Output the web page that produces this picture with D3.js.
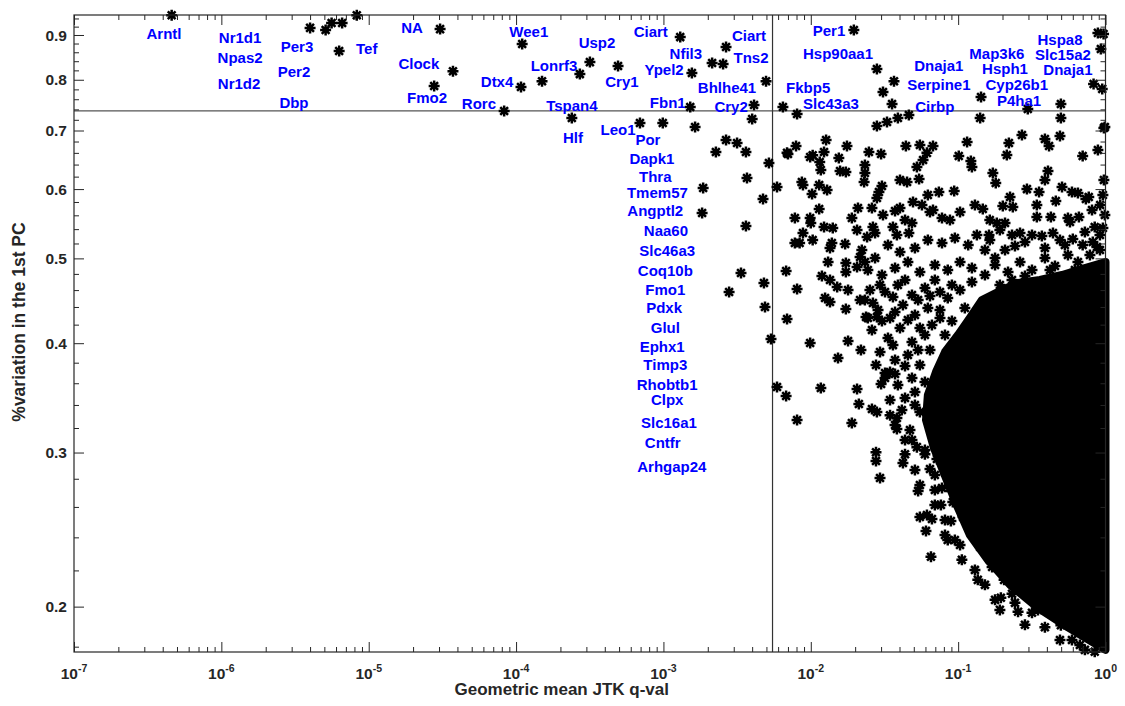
<!DOCTYPE html>
<html>
<head>
<meta charset="utf-8">
<script src="https://cdn.jsdelivr.net/npm/d3@7"></script>
<style>
  body { margin:0; background:#fff; }
  text { font-family:"Liberation Sans", Arial, Helvetica, sans-serif; font-weight:bold; }
</style>
</head>
<body>
<div id="chart-area"></div>
<script>

/* Data */

// axis ticks
var xTickValues = [1e-7, 1e-6, 1e-5, 1e-4, 1e-3, 1e-2, 1e-1, 1];
var xTickExponents = ["-7", "-6", "-5", "-4", "-3", "-2", "-1", "0"];
var yTickValues = [0.2, 0.3, 0.4, 0.5, 0.6, 0.7, 0.8, 0.9];
var yTickLabels = ["0.2", "0.3", "0.4", "0.5", "0.6", "0.7", "0.8", "0.9"];

// cut-off lines
var qCutoff = 0.0055;
var varCutoff = 0.737;

// genes : [JTK q-val, % variation in 1st PC]
var genePoints = [
  [4.6e-7,0.948],[4.0e-6,0.917],[5.1e-6,0.912],[5.6e-6,0.929],[6.6e-6,0.929],[6.3e-6,0.863],[8.3e-6,0.948],
  [3.05e-5,0.914],[1.10e-4,0.879],[3.73e-5,0.818],[2.78e-5,0.787],[1.08e-4,0.785],[1.50e-4,0.797],[8.3e-5,0.737],
  [2.71e-4,0.812],[3.17e-4,0.838],[4.92e-4,0.8295],[2.39e-4,0.7235],[1.30e-3,0.895],[2.66e-3,0.872],[2.14e-3,0.836],
  [2.54e-3,0.834],[1.56e-3,0.8144],[4.97e-3,0.797],[1.52e-3,0.7448],[4.12e-3,0.7486],[4.0e-3,0.7216],[6.93e-4,0.714],
  [9.9e-4,0.714],[1.64e-3,0.7064],[1.96e-2,0.912],[2.81e-2,0.823],[3.67e-2,0.797],[3.09e-2,0.7747],[3.56e-2,0.7506],
  [6.47e-3,0.7448],[8.07e-3,0.7311],[4.63e-2,0.7292],[3.9e-2,0.7235],[3.29e-2,0.716],[2.81e-2,0.7083],[0.143,0.7646],
  [0.141,0.7235],[0.297,0.7407],[0.498,0.7506],[0.498,0.7235],[0.888,0.905],[0.97,0.9025],[0.93,0.8675],[0.83,0.791],
  [0.95,0.781],[0.99,0.7064],
  [2.66e-3,0.6827],[3.16e-3,0.6773],[2.27e-3,0.6615],[3.63e-3,0.6615],[5.2e-3,0.6427],[6.9e-3,0.66],[7.94e-3,0.672],
  [3.69e-3,0.6178],[1.86e-3,0.6018],[5.9e-3,0.6033],[4.74e-3,0.5846],[1.83e-3,0.5634],[3.63e-3,0.5446],[7.8e-3,0.556],
  [7.8e-3,0.5207],[3.36e-3,0.4812],[6.8e-3,0.4837],[4.81e-3,0.4687],[2.79e-3,0.4577],[8.07e-3,0.4613],[4.89e-3,0.44],
  [6.9e-3,0.4263],[5.37e-3,0.4045],[5.9e-3,0.3565],[6.8e-3,0.3481],[8.07e-3,0.3268],
  [7.0e-3,0.658],[9.9e-3,0.653],[1.03e-2,0.656],[1.15e-2,0.6444],[1.17e-2,0.631],[1.27e-2,0.6827],[1.23e-2,0.6615],
  [1.55e-2,0.6512],[1.76e-2,0.672],[1.58e-2,0.6294],[1.73e-2,0.6277],[2.33e-2,0.6393],[2.33e-2,0.626],[2.3e-2,0.6113],
  [2.48e-2,0.6615],[3.0e-2,0.658],[8.7e-3,0.6113],[8.85e-3,0.6065],[1.14e-2,0.6065],[1.29e-2,0.5986],[1.02e-2,0.5924],
  [3.04e-2,0.605],[2.9e-2,0.5955],[2.81e-2,0.5862],[4.42e-2,0.672],[5.5e-2,0.6738],[6.75e-2,0.672],[6.14e-2,0.66],
  [5.78e-2,0.6478],[5.25e-2,0.636],[4.03e-2,0.6146],[4.5e-2,0.6113],[5.43e-2,0.6162],[6.23e-2,0.5908],[7.4e-2,0.5955],
  [9.4e-2,0.597],[0.101,0.6546],[0.115,0.6791],[0.122,0.646],[0.124,0.636],[0.172,0.626],[0.18,0.6097],[0.214,0.6563],
  [0.221,0.6773],[0.271,0.6918],[0.388,0.6845],[0.414,0.672],[0.491,0.69],[0.407,0.6294],[0.388,0.6146],[0.70,0.6546],
  [0.888,0.665],[0.975,0.7046],[0.293,0.600],[0.354,0.5955],[0.507,0.6033],[0.592,0.5955],[0.65,0.594],[0.736,0.5846],
  [0.77,0.5877],[0.96,0.5908],[0.99,0.5605],[0.225,0.5877],[0.201,0.574],[0.235,0.5725],[0.13,0.5755],[0.147,0.5694],
  [0.342,0.5755],[0.342,0.5575],[0.426,0.5575],[0.46,0.5816],[0.556,0.556],[0.574,0.5503],[0.66,0.5575],[0.845,0.5431],
  [0.96,0.5417],[0.44,0.5346],[0.60,0.5262],[0.82,0.522],[0.875,0.5153],
  [2.09e-2,0.571],[1.9e-2,0.556],[2.6e-2,0.571],[3.09e-2,0.5605],[3.73e-2,0.5664],[4.03e-2,0.571],[4.94e-2,0.58],
  [5.68e-2,0.5755],[6.44e-2,0.5649],[6.75e-2,0.5679],[7.77e-2,0.556],[8.8e-2,0.5532],[0.103,0.5649],[4.36e-2,0.5532],
  [4.86e-2,0.5489],[4.63e-2,0.5346],[2.06e-2,0.5388],[2.41e-2,0.529],[2.64e-2,0.5431],[2.73e-2,0.5346],[3.61e-2,0.5431],
  [3.84e-2,0.5318],[0.164,0.5532],[0.183,0.5489],[0.208,0.5489],[0.134,0.5318],[0.162,0.5318],[0.232,0.5318],
  [0.263,0.5346],[0.317,0.5318],
  [9.9e-3,0.556],[1.0e-2,0.5489],[1.14e-2,0.5694],[1.23e-2,0.5431],[1.41e-2,0.5417],[8.85e-3,0.5346],[8.4e-3,0.5207],
  [1.03e-2,0.5248],[1.39e-2,0.5207],[1.35e-2,0.5139],[1.71e-2,0.5193],[1.31e-2,0.4953],[1.73e-2,0.494],[1.73e-2,0.4824],
  [2.16e-2,0.5019],[2.06e-2,0.4888],[1.19e-2,0.4774],[1.35e-2,0.4724],[1.51e-2,0.4637],[1.79e-2,0.4601],[1.25e-2,0.4506],
  [1.35e-2,0.4459],[1.73e-2,0.4377],[2.33e-2,0.4482],[2.64e-2,0.4447],[2.37e-2,0.4285],[2.81e-2,0.4285],[9.9e-3,0.4003],
  [1.79e-2,0.4024],[2.19e-2,0.3929],[1.53e-2,0.3847],[3.19e-2,0.3698],[3.73e-2,0.3689],
  [1.17e-2,0.3556],[2.06e-2,0.3546],[2.12e-2,0.3409],[1.9e-2,0.3242],[2.6e-2,0.3364],[2.81e-2,0.3337],[3.45e-2,0.331],
  [3.84e-2,0.3285],[3.84e-2,0.3191],[3.0e-2,0.3593],[2.77e-2,0.3002],[2.77e-2,0.2934],[2.95e-2,0.2806],[4.22e-2,0.2919],
  [4.86e-2,0.31],[5.25e-2,0.3043],[5.35e-2,0.2712],[6.44e-2,0.2873],[6.95e-2,0.2828],[7.18e-2,0.295],[7.64e-2,0.2614],
  [7.77e-2,0.2733],[8.8e-2,0.2733],[9.2e-2,0.2634],[5.5e-2,0.2532],[6.14e-2,0.2545],[6.64e-2,0.2519],[6.05e-2,0.2441],
  [8.93e-2,0.2506],[8.5e-2,0.2383],[9.5e-2,0.2383],[6.54e-2,0.228],[0.108,0.2532],[0.117,0.2532],[0.141,0.246],
  [0.141,0.234],[0.164,0.2262],[0.17,0.222],[0.198,0.2232],[0.205,0.2146],[0.225,0.2135],[0.195,0.2047],[0.232,0.2069],
  [0.243,0.202],[0.271,0.209],[0.293,0.2163],[0.317,0.1968],[0.348,0.1983],[0.439,0.1957],[0.498,0.1904],[0.67,0.1899],
  [0.785,0.1851],[0.82,0.1832],[0.725,0.1785],[0.845,0.1776],[0.96,0.18],
  [2.22e-2,0.5112],[2.73e-2,0.5005],[3.34e-2,0.518],[4.03e-2,0.5085],[5.09e-2,0.5139],[6.23e-2,0.5248],[7.77e-2,0.5207],
  [9.5e-2,0.5276],[0.117,0.518],[0.152,0.5112],[2.44e-2,0.4849],[3.04e-2,0.4786],[3.73e-2,0.4875],[4.56e-2,0.4953],
  [5.5e-2,0.4824],[6.95e-2,0.4914],[8.5e-2,0.4849],[0.103,0.4953],[0.124,0.4875],[2.52e-2,0.4601],[3.19e-2,0.4577],
  [3.9e-2,0.4662],[4.86e-2,0.4541],[5.95e-2,0.4625],[7.53e-2,0.4577],[9.07e-2,0.4662],[2.86e-2,0.4365],[3.45e-2,0.4274],
  [4.22e-2,0.4423],[5.09e-2,0.4308],[6.23e-2,0.4388],[7.53e-2,0.4274],[2.6e-2,0.4142],[3.34e-2,0.4056],[4.03e-2,0.4164],
  [4.86e-2,0.4013],[5.95e-2,0.4088],[2.95e-2,0.3908],[3.73e-2,0.3827],[4.56e-2,0.3878],[5.5e-2,0.3777],[3.19e-2,0.365],
  [3.9e-2,0.3584],[4.86e-2,0.365],[3.45e-2,0.3445],[4.15e-2,0.3355],[5.09e-2,0.34],[4.36e-2,0.31],[5.95e-2,0.302],
  [5.09e-2,0.2865],[6.95e-2,0.2719],[8.14e-2,0.2512],[0.103,0.2352],[0.13,0.2203],[0.152,0.2118],[0.192,0.1983],
  [0.284,0.1907],[0.491,0.1832],[0.67,0.1808],
  [0.92,0.5755],[0.975,0.6146],[0.81,0.5679],[0.725,0.536],[0.53,0.518],[0.388,0.5139],[0.284,0.522],[0.208,0.5112],
  [0.178,0.5005],
  [0.178,0.4914],[0.218,0.4824],[0.263,0.4953],[0.317,0.4849],[0.388,0.5005],[0.454,0.4901],[0.556,0.5045],[0.65,0.4953],
  [0.784,0.5045],[0.917,0.5112],[0.192,0.4662],[0.232,0.4724],[0.284,0.4774],[0.42,0.4849],[0.62,0.4849],[0.845,0.4875],
  [0.491,0.5248],[0.70,0.518],[0.37,0.5304],[0.243,0.5166],[0.164,0.5248],[0.192,0.5388],[0.917,0.5318],
  [0.0695,0.4724],[0.085,0.4506],[0.103,0.4601],[0.124,0.4699],[0.152,0.4786],[0.0753,0.4365],[0.0907,0.4241],
  [0.111,0.4388],[0.0814,0.4088],[0.0664,0.4196],
  [0.0233,0.4953],[0.0295,0.4662],[0.0361,0.4518],[0.0436,0.4724],[0.0535,0.4482],[0.0644,0.453],[0.0216,0.4482],
  [0.0244,0.4274],[0.0304,0.4241],[0.0373,0.4342],[0.0456,0.4252],[0.055,0.4164],[0.0644,0.3929],[0.0535,0.3929],
  [0.0436,0.3767],[0.0595,0.3612],[0.0361,0.398],[0.0277,0.3777],[0.0345,0.3708],[0.0509,0.3518],[0.0436,0.3463],
  [0.055,0.3337],[0.0373,0.3225],[0.0471,0.3183],[0.0595,0.2986],[0.0436,0.2986],[0.055,0.2755],[0.0695,0.2614],
  [0.0814,0.2415],[0.106,0.2262],[0.136,0.2146],[0.178,0.2036],[0.255,0.1973],[0.388,0.1894],[0.592,0.1832]
];

// outline of the solid mass of overlapping genes (lower right)
var denseCore = [
  [1.0,0.4953],[0.725,0.4875],[0.507,0.4786],[0.359,0.4724],[0.255,0.4687],[0.186,0.4577],[0.145,0.4482],
  [0.120,0.4274],[0.0997,0.4088],[0.0814,0.3908],[0.0707,0.3708],[0.0623,0.349],[0.0605,0.3268],[0.0685,0.3036],
  [0.0826,0.2806],[0.0997,0.2593],[0.120,0.2415],[0.159,0.2262],[0.225,0.2118],[0.348,0.1993],[0.556,0.1894],
  [0.81,0.1823],[1.0,0.1785]
];

// gene names : [name, q-val, % variation]
var geneLabels = [
  ["Arntl",4.08e-7,0.9024],["Nr1d1",1.34e-6,0.895],["Npas2",1.34e-6,0.847],["Nr1d2",1.32e-6,0.791],
  ["Per3",3.26e-6,0.872],["Per2",3.11e-6,0.8165],["Dbp",3.11e-6,0.7526],["Tef",9.7e-6,0.8675],
  ["NA",1.97e-5,0.9167],["Wee1",1.22e-4,0.908],["Clock",2.19e-5,0.8339],["Usp2",3.54e-4,0.8812],
  ["Ciart",8.2e-4,0.908],["Ciart",3.81e-3,0.8976],["Nfil3",1.42e-3,0.8561],["Tns2",3.93e-3,0.847],
  ["Lonrf3",1.81e-4,0.8295],["Dtx4",7.43e-5,0.7953],["Cry1",5.23e-4,0.7953],["Ypel2",1.01e-3,0.8208],
  ["Bhlhe41",2.7e-3,0.783],["Fmo2",2.49e-5,0.7626],["Rorc",5.6e-5,0.7506],["Tspan4",2.39e-4,0.7467],
  ["Fbn1",1.07e-3,0.7526],["Cry2",2.88e-3,0.7448],["Leo1",4.92e-4,0.7009],["Per1",1.33e-2,0.9095],
  ["Hsp90aa1",1.53e-2,0.8561],["Fkbp5",9.6e-3,0.783],["Slc43a3",1.37e-2,0.7506],["Dnaja1",7.4e-2,0.8295],
  ["Serpine1",7.4e-2,0.7891],["Cirbp",6.95e-2,0.7448],["Map3k6",0.183,0.8575],["Hsph1",0.208,0.8245],
  ["Cyp26b1",0.25,0.789],["P4ha1",0.259,0.757],["Hspa8",0.491,0.8895],["Slc15a2",0.514,0.8545],
  ["Dnaja1",0.556,0.8208],["Hlf",2.43e-4,0.6864],["Por",7.85e-4,0.6827],["Dapk1",8.36e-4,0.6495],
  ["Thra",8.8e-4,0.6194],["Tmem57",9.1e-4,0.594],["Angptl2",8.8e-4,0.5664],["Naa60",1.04e-3,0.5374],
  ["Slc46a3",1.06e-3,0.5099],["Coq10b",1.03e-3,0.4837],["Fmo1",1.03e-3,0.4601],["Pdxk",1.01e-3,0.4388],
  ["Glul",1.03e-3,0.4164],["Ephx1",9.8e-4,0.3968],["Timp3",1.03e-3,0.3777],["Rhobtb1",1.06e-3,0.3584],
  ["Clpx",1.06e-3,0.3445],["Slc16a1",1.09e-3,0.325],["Cntfr",9.9e-4,0.3076],["Arhgap24",1.14e-3,0.2888]
];


/* Setting margins, width and height of the plot */

var margin = { left:74, right:19.5, top:15, bottom:54 };
var width = 1125 - margin.left - margin.right;
var height = 706 - margin.top - margin.bottom;

var axisColor = "#262626";

var svg = d3.select("#chart-area").append("svg")
  .attr("width", width + margin.left + margin.right)
  .attr("height", height + margin.top + margin.bottom);

var g = svg.append("g")
  .attr("transform", "translate(" + margin.left + ", " + margin.top + ")");


/* Scales */

var x = d3.scaleLog()
  .domain([1e-7, 1])
  .range([0, width]);

var y = d3.scaleLog()
  .domain([0.1775, 0.9486])
  .range([height, 0]);


/* Cut-off lines */

g.append("line")
  .attr("x1", 0).attr("x2", width)
  .attr("y1", y(varCutoff)).attr("y2", y(varCutoff))
  .attr("stroke", "#555").attr("stroke-width", 1.2);

g.append("line")
  .attr("x1", x(qCutoff)).attr("x2", x(qCutoff))
  .attr("y1", 0).attr("y2", height)
  .attr("stroke", "#333").attr("stroke-width", 1.2);


/* Dense cloud + asterisk markers */

var coreLine = d3.line()
  .x((d)=>{return x(d[0])})
  .y((d)=>{return y(d[1])})
  .curve(d3.curveLinearClosed);

g.append("path")
  .datum(denseCore)
  .attr("d", coreLine)
  .attr("fill", "black")
  .attr("stroke", "black")
  .attr("stroke-width", 8)
  .attr("stroke-linejoin", "round");

var star = "M-5.5,0H5.5M0,-5.5V5.5M-3.9,-3.9L3.9,3.9M-3.9,3.9L3.9,-3.9";

g.selectAll(".gene")
  .data(genePoints)
  .enter()
  .append("path")
    .attr("class", "gene")
    .attr("d", star)
    .attr("transform", (d)=>{return "translate(" + x(d[0]) + "," + y(d[1]) + ")"})
    .attr("stroke", "black")
    .attr("stroke-width", 2.5)
    .attr("fill", "none");


/* Gene names */

g.selectAll(".gene-label")
  .data(geneLabels)
  .enter()
  .append("text")
    .attr("class", "gene-label")
    .attr("x", (d)=>{return x(d[1])})
    .attr("y", (d)=>{return y(d[2])})
    .attr("dy", "0.36em")
    .attr("text-anchor", "middle")
    .attr("font-size", "15px")
    .attr("fill", "#0000ff")
    .text((d)=>{return d[0]});


/* Axes (ticks inward on all four sides) */

var xMinor = x.ticks().filter((v)=>{return xTickValues.indexOf(v) < 0});
var yMinor = d3.range(18, 95, 2).map((v)=>{return v / 100})
  .filter((v)=>{return Math.round(v * 100) % 10 != 0});

function tickAxis(axis, values, size) {
  return axis.tickValues(values).tickSizeInner(-size).tickSizeOuter(0).tickFormat("");
}

var axes = [
  [d3.axisBottom, "translate(0," + height + ")", x, xTickValues, xMinor],
  [d3.axisTop, "translate(0,0)", x, xTickValues, xMinor],
  [d3.axisLeft, "translate(0,0)", y, yTickValues, yMinor],
  [d3.axisRight, "translate(" + width + ",0)", y, yTickValues, yMinor]
];

axes.forEach((a)=>{
  [[a[3], 10], [a[4], 5]].forEach((t)=>{
    var ax = g.append("g")
      .attr("class", "axis")
      .attr("transform", a[1])
      .call(tickAxis(a[0](a[2]), t[0], t[1]));
    ax.select(".domain").remove();
    ax.selectAll("line").attr("stroke", axisColor);
  });
});

// box
g.append("rect")
  .attr("width", width)
  .attr("height", height)
  .attr("fill", "none")
  .attr("stroke", axisColor)
  .attr("stroke-width", 1.2);

// x tick labels 10^n
var xLabels = g.selectAll(".x-tick-label")
  .data(xTickValues)
  .enter()
  .append("text")
    .attr("class", "x-tick-label")
    .attr("x", (d)=>{return x(d)})
    .attr("y", height + 27)
    .attr("text-anchor", "middle")
    .attr("font-size", "15.5px")
    .attr("fill", axisColor);
xLabels.append("tspan").text("10");
xLabels.append("tspan")
  .attr("dy", "-7")
  .attr("font-size", "10.5px")
  .text((d, i)=>{return xTickExponents[i]});

// y tick labels
g.selectAll(".y-tick-label")
  .data(yTickValues)
  .enter()
  .append("text")
    .attr("class", "y-tick-label")
    .attr("x", -7)
    .attr("y", (d)=>{return y(d)})
    .attr("dy", "0.36em")
    .attr("text-anchor", "end")
    .attr("font-size", "15.5px")
    .attr("fill", axisColor)
    .text((d, i)=>{return yTickLabels[i]});


/* Axis titles */

g.append("text")
  .attr("x", width / 2 - 28)
  .attr("y", height + 43)
  .attr("font-size", "17px")
  .attr("text-anchor", "middle")
  .attr("fill", axisColor)
  .text("Geometric mean JTK q-val");

g.append("text")
  .attr("x", -307)
  .attr("y", -49)
  .attr("font-size", "17.5px")
  .attr("text-anchor", "middle")
  .attr("transform", "rotate(-90)")
  .attr("fill", axisColor)
  .text("%variation in the 1st PC");

</script>
</body>
</html>
